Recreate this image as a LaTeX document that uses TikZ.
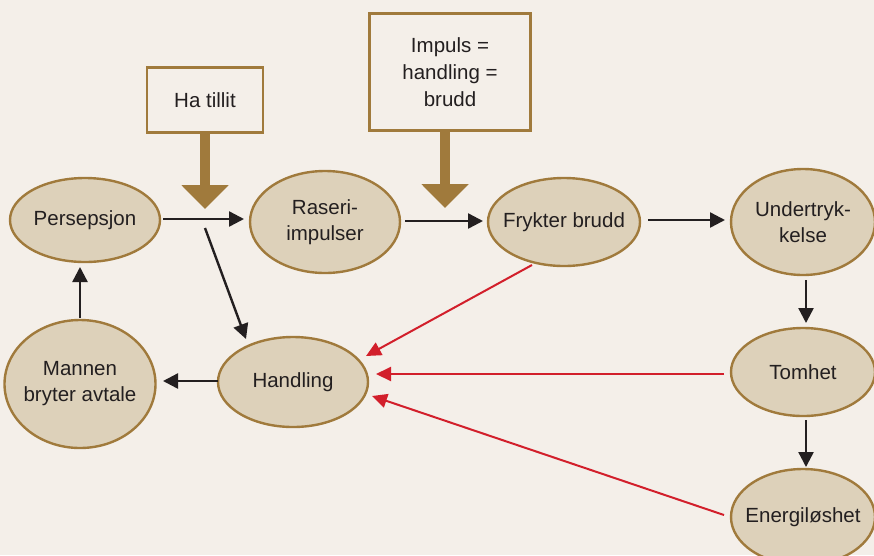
\documentclass[tikz,border=0pt]{standalone}
\usepackage{fontspec}
\setmainfont{Liberation Sans}
\usetikzlibrary{arrows.meta,shapes.geometric}
\definecolor{bg}{HTML}{F4EFE9}
\definecolor{efill}{HTML}{DDD1BA}
\definecolor{brn}{HTML}{A07A3C}
\definecolor{ink}{HTML}{231F20}
\definecolor{rd}{HTML}{D21F2B}
\tikzset{
  el/.style={ellipse, draw=brn, fill=efill, line width=2.4pt, inner xsep=-45pt, inner ysep=0pt, align=center, font=\fontsize{20.5}{26}\selectfont, text=ink},
  bx/.style={rectangle, draw=brn, fill=bg, line width=2.4pt, inner sep=0pt, align=center, font=\fontsize{20.5}{27}\selectfont, text=ink},
  blk/.style={draw=ink, line width=2.4pt, -{Triangle[length=15pt,width=15pt]}},
  red/.style={draw=rd, line width=2pt, -{Triangle[length=15pt,width=14pt]}},
  thick arrow/.style={draw=brn, line width=10pt, -{Triangle[length=24pt,width=46pt]}}
}
\begin{document}
\begin{tikzpicture}[x=1pt,y=-1pt]
\useasboundingbox (0,0) rectangle (874,555);
\fill[bg] (0,0) rectangle (874,555);
\clip (0,0) rectangle (874,555);
% ellipses
\node[el, minimum width=150pt, minimum height=84pt] (pers) at (85,220) {Persepsjon};
\node[el, minimum width=150pt, minimum height=102pt] (ras) at (325,222) {Raseri-\\impulser};
\node[el, minimum width=152pt, minimum height=88pt] (fry) at (564,222) {Frykter brudd};
\node[el, minimum width=144pt, minimum height=106pt] (und) at (803,222) {Undertryk-\\kelse};
\node[el, minimum width=144pt, minimum height=88pt] (tom) at (803,372) {Tomhet};
\node[el, minimum width=144pt, minimum height=96pt] (ene) at (803,517) {Energiløshet};
\node[el, minimum width=150pt, minimum height=90pt] (han) at (293,382) {Handling};
\node[el, minimum width=151pt, minimum height=128pt] (man) at (80,384) {Mannen\\bryter avtale};
% boxes
\node[bx, minimum width=116pt, minimum height=65pt] (tillit) at (205,100) {Ha tillit};
\node[bx, minimum width=161pt, minimum height=117pt] (imp) at (450,72) {Impuls =\\handling =\\brudd};
% thick arrows
\coordinate (t1) at (205,209);
\coordinate (t2) at (445,208);
\draw[thick arrow] (tillit.south) -- (t1);
\draw[thick arrow] (imp.south -| t2) -- (t2);
% black arrows
\coordinate (a1) at (163,219); \coordinate (a2) at (244,219);
\draw[blk] (a1) -- (a2);
\coordinate (b1) at (405,221); \coordinate (b2) at (483,221);
\draw[blk] (b1) -- (b2);
\coordinate (c1) at (648,220); \coordinate (c2) at (725,220);
\draw[blk] (c1) -- (c2);
\coordinate (d1) at (806,280); \coordinate (d2) at (806,323);
\draw[blk] (d1) -- (d2);
\coordinate (e1) at (806,420); \coordinate (e2) at (806,467);
\draw[blk] (e1) -- (e2);
\coordinate (f1) at (218,381); \coordinate (f2) at (163,381);
\draw[blk] (f1) -- (f2);
\coordinate (g1) at (80,318); \coordinate (g2) at (80,267);
\draw[blk] (g1) -- (g2);
\coordinate (h1) at (205,228); \coordinate (h2) at (246,339);
\draw[blk] (h1) -- (h2);
% red arrows
\coordinate (r1) at (532,265); \coordinate (r2) at (366,356);
\draw[red] (r1) -- (r2);
\coordinate (s1) at (724,374); \coordinate (s2) at (376,374);
\draw[red] (s1) -- (s2);
\coordinate (u1) at (724,515); \coordinate (u2) at (372,396);
\draw[red] (u1) -- (u2);
\end{tikzpicture}
\end{document}
